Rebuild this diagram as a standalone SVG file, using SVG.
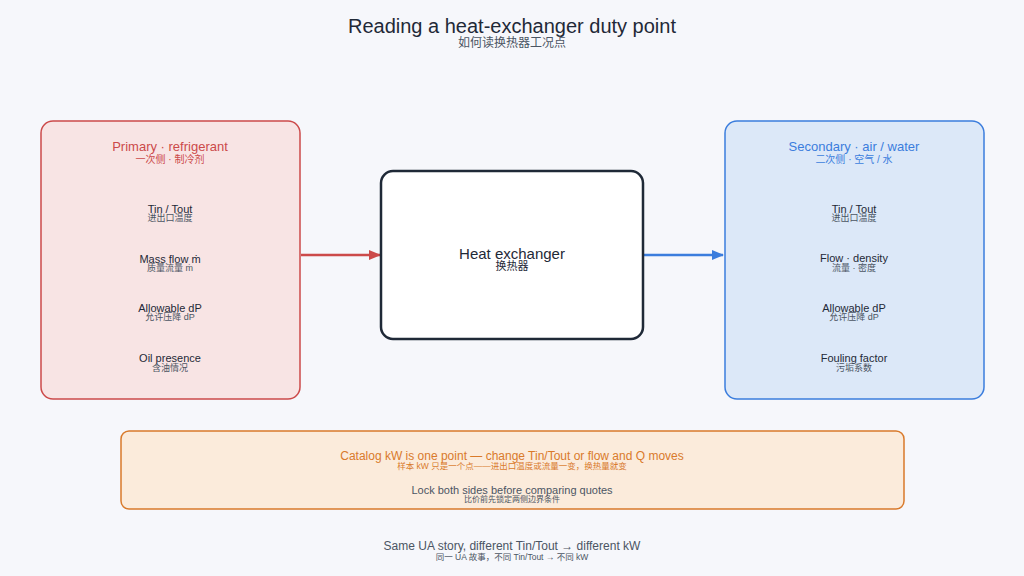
<svg xmlns="http://www.w3.org/2000/svg" width="1024" height="576" viewBox="0 0 1024 576">
<style>
text{font-family:"Liberation Sans","Noto Sans CJK SC",sans-serif;text-anchor:middle}
.en{font-size:11px;fill:#1f2937}.zh{font-size:9px;fill:#4b5563}
</style>
<defs>
<marker id="ar1" viewBox="0 0 10 10" refX="9" refY="5" markerWidth="5" markerHeight="5" orient="auto"><path d="M0,1L10,5L0,9z" fill="#cc4a4a"/></marker>
<marker id="ar2" viewBox="0 0 10 10" refX="9" refY="5" markerWidth="5" markerHeight="5" orient="auto"><path d="M0,1L10,5L0,9z" fill="#3b7ddd"/></marker>
</defs>
<rect width="1024" height="576" fill="#f6f7fb"/>
<text x="512" y="33" style="font-size:20px;fill:#1f2937">Reading a heat-exchanger duty point</text>
<text x="512" y="47" style="font-size:12px;fill:#4b5563">如何读换热器工况点</text>
<g id="connectors">
<line x1="301" y1="255" x2="380" y2="255" stroke="#cc4a4a" stroke-width="2.5" marker-end="url(#ar1)"/>
<line x1="644" y1="255" x2="723" y2="255" stroke="#3b7ddd" stroke-width="2.5" marker-end="url(#ar2)"/>
</g>
<g id="primary">
<rect x="41" y="121" width="259" height="278" rx="12" fill="#f8e4e4" stroke="#cc4a4a" stroke-width="1.5"/>
<text x="170" y="151" style="font-size:13px;fill:#cc4a4a">Primary · refrigerant</text>
<text x="170" y="163" style="font-size:10px;fill:#cc4a4a">一次侧 · 制冷剂</text>
<text class="en" x="170" y="213">Tin / Tout</text><text class="zh" x="170" y="221">进出口温度</text>
<text class="en" x="170" y="263">Mass flow ṁ</text><text class="zh" x="170" y="271">质量流量 ṁ</text>
<text class="en" x="170" y="312">Allowable dP</text><text class="zh" x="170" y="320">允许压降 dP</text>
<text class="en" x="170" y="362">Oil presence</text><text class="zh" x="170" y="371">含油情况</text>
</g>
<g id="hx">
<rect x="381" y="171" width="262" height="168" rx="12" fill="#ffffff" stroke="#1f2937" stroke-width="2.5"/>
<text x="512" y="259" style="font-size:15px;fill:#1f2937">Heat exchanger</text>
<text x="512" y="270" style="font-size:11px;fill:#1f2937">换热器</text>
</g>
<g id="secondary">
<rect x="725" y="121" width="259" height="278" rx="12" fill="#dce8f8" stroke="#3b7ddd" stroke-width="1.5"/>
<text x="854" y="151" style="font-size:13px;fill:#3b7ddd">Secondary · air / water</text>
<text x="854" y="163" style="font-size:10px;fill:#3b7ddd">二次侧 · 空气 / 水</text>
<text class="en" x="854" y="213">Tin / Tout</text><text class="zh" x="854" y="221">进出口温度</text>
<text class="en" x="854" y="262">Flow · density</text><text class="zh" x="854" y="271">流量 · 密度</text>
<text class="en" x="854" y="312">Allowable dP</text><text class="zh" x="854" y="320">允许压降 dP</text>
<text class="en" x="854" y="362">Fouling factor</text><text class="zh" x="854" y="371">污垢系数</text>
</g>
<g id="note">
<rect x="121" y="431" width="783" height="78" rx="8" fill="#fbebdb" stroke="#d97a2b" stroke-width="1.5"/>
<text x="512" y="460" style="font-size:12px;fill:#d97a2b">Catalog kW is one point — change Tin/Tout or flow and Q moves</text>
<text x="512" y="469" style="font-size:8.5px;fill:#d97a2b">样本 kW 只是一个点——进出口温度或流量一变，换热量就变</text>
<text x="512" y="494" style="font-size:11px;fill:#4b5563">Lock both sides before comparing quotes</text>
<text x="512" y="502" style="font-size:8px;fill:#4b5563">比价前先锁定两侧边界条件</text>
</g>
<text x="512" y="550" style="font-size:12px;fill:#4b5563">Same UA story, different Tin/Tout → different kW</text>
<text x="512" y="560" style="font-size:8.5px;fill:#4b5563">同一 UA 故事，不同 Tin/Tout → 不同 kW</text>
</svg>
